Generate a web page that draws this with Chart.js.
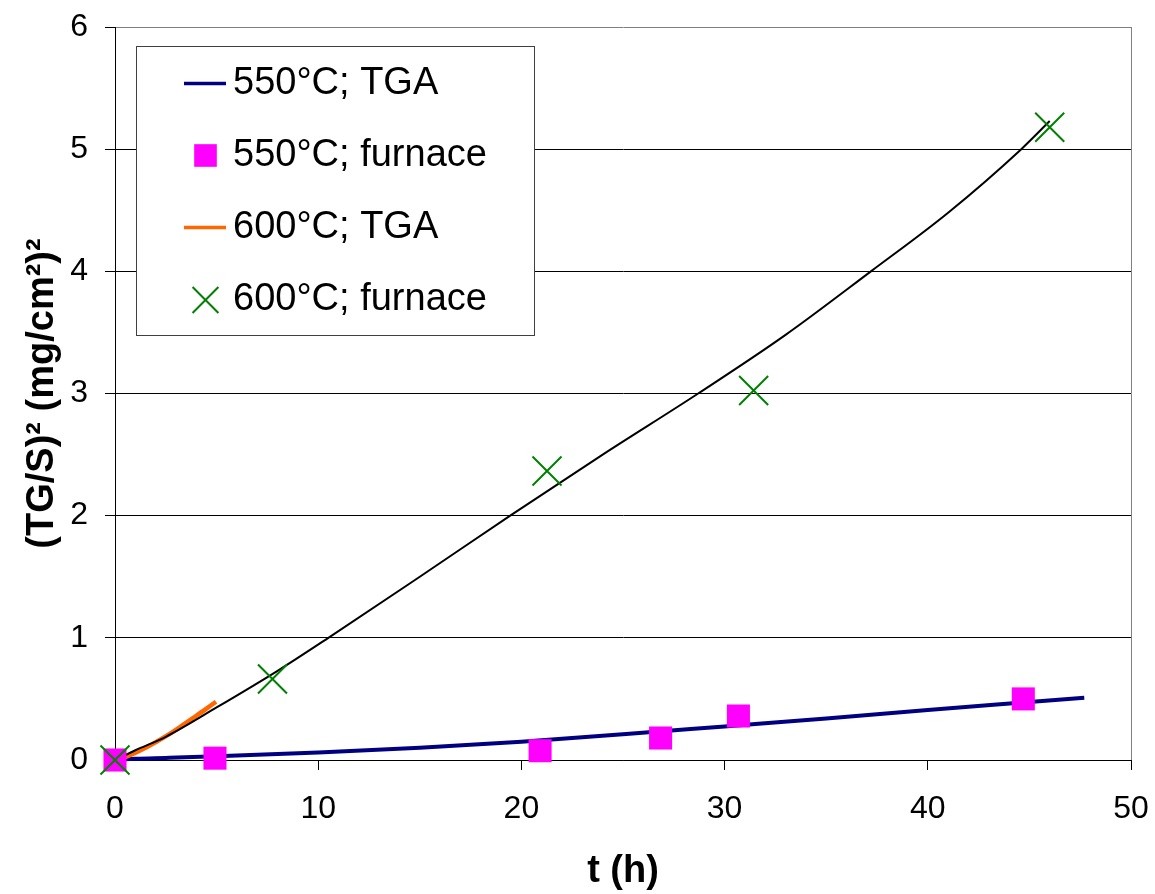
<!DOCTYPE html>
<html>
<head>
<meta charset="utf-8">
<script src="https://cdn.jsdelivr.net/npm/chart.js@4.4.1/dist/chart.umd.min.js"></script>
<style>
html,body{margin:0;padding:0;background:#fff;}
canvas{display:block;}
</style>
</head>
<body>
<canvas id="c" width="1155" height="894"></canvas>
<script>
// ---- data ----
const xTickValues = [0, 10, 20, 30, 40, 50];
const yTickValues = [0, 1, 2, 3, 4, 5, 6];

const seriesLabels = ['550°C; TGA', '550°C; furnace', '600°C; TGA', '600°C; furnace'];

const tga550X = [0, 1, 2.5, 5, 10, 15, 20, 25, 30, 35, 40, 45, 47.7];
const tga550Y = [0, 0.01, 0.017, 0.03, 0.062, 0.1, 0.15, 0.21, 0.275, 0.34, 0.41, 0.475, 0.51];

const furn550X = [0, 4.92, 20.92, 26.85, 30.68, 44.7];
const furn550Y = [0, 0.015, 0.076, 0.18, 0.36, 0.5];

const tga600X = [0, 0.6, 1.5, 2.55, 3.2, 3.9, 4.5, 4.97];
const tga600Y = [0, 0.03, 0.1, 0.2, 0.27, 0.35, 0.42, 0.477];

const furn600X = [0, 7.75, 21.26, 31.43, 46.0];
const furn600Y = [0, 0.663, 2.365, 3.025, 5.18];

const fit600X = [0, 1, 2.5, 5, 8, 10.5, 15, 19.45, 24, 28.7, 33, 37.2, 41, 44.6, 46];
const fit600Y = [0, 0.08, 0.19, 0.43, 0.73, 1.0, 1.5, 2.0, 2.5, 3.0, 3.48, 4.0, 4.48, 5.0, 5.23];

const xTitle = 't (h)';
const yTitle = '(TG/S)² (mg/cm²)²';

// ---- helpers ----
const pts = (xs, ys) => xs.map((x, i) => ({x: x, y: ys[i]}));
const FONT = "'Liberation Sans', Arial, Helvetica, sans-serif";
const zeroPad = s => { s.paddingTop = 0; s.paddingBottom = 0; s.paddingLeft = 0; s.paddingRight = 0; };

const legendPlugin = {
  id: 'boxLegend',
  beforeDatasetsDraw(chart) {
    const ctx = chart.ctx;
    const bx = 136, by = 46, bw = 398, bh = 289;
    ctx.save();
    ctx.fillStyle = '#ffffff';
    ctx.fillRect(bx, by, bw, bh);
    ctx.strokeStyle = '#404040';
    ctx.lineWidth = 1;
    ctx.strokeRect(bx + 0.5, by + 0.5, bw, bh);
    const rows = [83.5, 155.5, 227.5, 300];
    const items = chart.data.datasets.filter(d => d.label);
    items.forEach((d, i) => {
      const y = rows[i];
      if (d.showLine) {
        ctx.beginPath();
        ctx.strokeStyle = d.borderColor;
        ctx.lineWidth = 3.5;
        ctx.lineCap = 'butt';
        ctx.moveTo(184, y);
        ctx.lineTo(226, y);
        ctx.stroke();
      } else {
        ctx.fillStyle = d.pointBackgroundColor;
        ctx.strokeStyle = d.pointBorderColor;
        ctx.lineWidth = d.pointBorderWidth;
        Chart.helpers.drawPoint(ctx, {
          pointStyle: d.pointStyle,
          rotation: 0,
          radius: d.legendRadius,
          borderWidth: d.pointBorderWidth
        }, 205.5, y);
      }
      ctx.fillStyle = '#000';
      ctx.font = '38px ' + FONT;
      ctx.textBaseline = 'middle';
      ctx.textAlign = 'left';
      ctx.fillText(d.label, 233, y);
    });
    ctx.restore();
  }
};

new Chart(document.getElementById('c'), {
  type: 'scatter',
  data: {
    datasets: [
      {
        label: seriesLabels[0],
        data: pts(tga550X, tga550Y),
        showLine: true,
        borderColor: '#000080',
        borderWidth: 4,
        pointRadius: 0,
        cubicInterpolationMode: 'monotone',
        clip: false,
        order: 4
      },
      {
        label: seriesLabels[1],
        data: pts(furn550X, furn550Y),
        showLine: false,
        pointStyle: 'rect',
        pointRadius: 16.3,
        legendRadius: 16,
        pointBackgroundColor: '#FF00FF',
        pointBorderColor: '#FF00FF',
        pointBorderWidth: 0,
        clip: false,
        order: 1
      },
      {
        label: seriesLabels[2],
        data: pts(tga600X, tga600Y),
        showLine: true,
        borderColor: '#FF6600',
        borderWidth: 4.5,
        pointRadius: 0,
        cubicInterpolationMode: 'monotone',
        clip: false,
        order: 3
      },
      {
        label: seriesLabels[3],
        data: pts(furn600X, furn600Y),
        showLine: false,
        pointStyle: 'crossRot',
        pointRadius: 20.5,
        legendRadius: 18.3,
        pointBackgroundColor: '#008000',
        pointBorderColor: '#008000',
        pointBorderWidth: 2,
        clip: false,
        order: 0
      },
      {
        label: '',
        data: pts(fit600X, fit600Y),
        showLine: true,
        borderColor: '#000000',
        borderWidth: 2,
        pointRadius: 0,
        cubicInterpolationMode: 'monotone',
        clip: false,
        order: 2
      }
    ]
  },
  options: {
    responsive: false,
    animation: false,
    devicePixelRatio: 1,
    layout: { padding: { left: 0, right: 24, top: 27, bottom: 0 } },
    plugins: {
      legend: { display: false },
      tooltip: { enabled: false }
    },
    scales: {
      x: {
        type: 'linear',
        min: 0, max: 50,
        afterBuildTicks: s => { s.ticks = xTickValues.map(v => ({value: v})); },
        afterFit: s => { s.height = 134; zeroPad(s); },
        border: { display: true, color: '#000', width: 1 },
        grid: {
          drawOnChartArea: true,
          drawTicks: true,
          tickLength: 10,
          color: c => (c.tick && c.tick.value === 50) ? '#808080' : 'rgba(0,0,0,0)',
          tickColor: '#000',
          lineWidth: 1
        },
        ticks: {
          color: '#000',
          padding: 20,
          maxRotation: 0,
          font: { family: FONT, size: 32 }
        },
        title: {
          display: true,
          text: xTitle,
          color: '#000',
          padding: { top: 0, bottom: 0 },
          font: { family: FONT, size: 38, weight: 'bold' }
        }
      },
      y: {
        type: 'linear',
        min: 0, max: 6,
        afterBuildTicks: s => { s.ticks = yTickValues.map(v => ({value: v})); },
        afterFit: s => { s.width = 115; zeroPad(s); },
        border: { display: true, color: '#000', width: 1 },
        grid: {
          drawOnChartArea: true,
          drawTicks: true,
          tickLength: 10,
          color: c => (c.tick && c.tick.value === 6) ? '#808080' : '#000',
          tickColor: '#000',
          lineWidth: 1
        },
        ticks: {
          color: '#000',
          padding: 17,
          font: { family: FONT, size: 32 }
        },
        title: {
          display: true,
          text: yTitle,
          color: '#000',
          padding: { top: 20, bottom: 0 },
          font: { family: FONT, size: 38, weight: 'bold' }
        }
      }
    }
  },
  plugins: [legendPlugin]
});
</script>
</body>
</html>
